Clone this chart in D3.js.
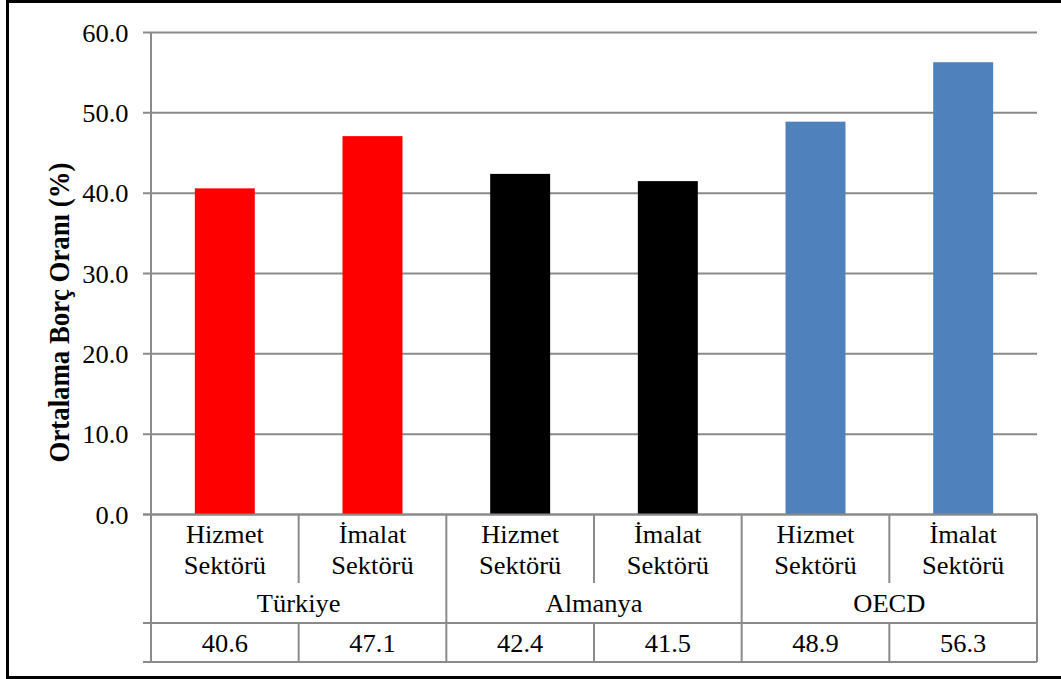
<!DOCTYPE html>
<html><head><meta charset="utf-8">
<script src="https://cdn.jsdelivr.net/npm/d3@7"></script>
<style>body{margin:0;background:#fff}svg{display:block}</style>
</head><body>
<svg id="c" width="1061" height="679"></svg>
<script>
const groups = ["Türkiye", "Almanya", "OECD"];
const sectors = ["Hizmet Sektörü", "İmalat Sektörü"];
const values = [40.6, 47.1, 42.4, 41.5, 48.9, 56.3];
const groupColors = ["#FF0000", "#000000", "#4F81BD"];
const yTicks = [0, 10, 20, 30, 40, 50, 60];
const yTitle = "Ortalama Borç Oranı (%)";

const svg = d3.select("#c");
const font = "'Liberation Serif','Times New Roman',serif";
const grid = "#8a8a8a";
const FS = 24.5, SX = 1.08;
const L = 151, R = 1037, T = 32.5, B = 514.5;
const rowCat = 583, rowGrp = 623, rowVal = 662;

// outer border
svg.append("rect").attr("x", 7.5).attr("y", 1.5).attr("width", 1070).attr("height", 676)
  .attr("fill", "none").attr("stroke", "#000").attr("stroke-width", 3);

const cats = [];
groups.forEach((g, gi) => sectors.forEach((s, si) => cats.push({g, gi, s, v: values[gi * 2 + si], key: gi + "-" + si})));

const x = d3.scaleBand().domain(cats.map(d => d.key)).range([L, R]).paddingInner(0.594).paddingOuter(0.297);
const xb = d3.scaleBand().domain(cats.map(d => d.key)).range([L, R]);
const y = d3.scaleLinear().domain([0, 60]).range([B, T]);

function txt(parent, tx, ty, s, anchor) {
  return parent.append("text").attr("transform", `translate(${tx},${ty}) scale(${SX},1)`)
    .attr("text-anchor", anchor || "middle").attr("font-family", font).attr("font-size", FS)
    .attr("fill", "#000").text(s);
}

// gridlines
svg.append("g").selectAll("line").data(yTicks).join("line")
  .attr("x1", L - 8).attr("x2", R).attr("y1", d => y(d)).attr("y2", d => y(d))
  .attr("stroke", grid).attr("stroke-width", 2);

// y labels
const yl = svg.append("g");
yTicks.forEach(d => txt(yl, 128.5, y(d) + 9, d3.format(".1f")(d), "end"));

// bars
svg.append("g").selectAll("rect").data(cats).join("rect")
  .attr("x", d => x(d.key)).attr("width", x.bandwidth())
  .attr("y", d => y(d.v)).attr("height", d => y(0) - y(d.v))
  .attr("fill", d => groupColors[d.gi]);

// axis / table lines
const tl = svg.append("g").attr("stroke", grid).attr("stroke-width", 2);
tl.append("line").attr("x1", L).attr("x2", L).attr("y1", T).attr("y2", rowVal);
tl.append("line").attr("x1", R).attr("x2", R).attr("y1", B).attr("y2", rowVal);
tl.append("line").attr("x1", L - 8).attr("x2", R).attr("y1", B).attr("y2", B);
tl.append("line").attr("x1", L - 8).attr("x2", R).attr("y1", rowGrp).attr("y2", rowGrp);
tl.append("line").attr("x1", L - 8).attr("x2", R).attr("y1", rowVal).attr("y2", rowVal);
cats.forEach((d, i) => {
  if (i === 0) return;
  const xx = xb(d.key);
  if (i % 2 === 0) tl.append("line").attr("x1", xx).attr("x2", xx).attr("y1", B).attr("y2", rowVal);
  else {
    tl.append("line").attr("x1", xx).attr("x2", xx).attr("y1", B).attr("y2", rowCat);
    tl.append("line").attr("x1", xx).attr("x2", xx).attr("y1", rowGrp).attr("y2", rowVal);
  }
});

// category labels
const tg = svg.append("g");
cats.forEach(d => {
  const cx = xb(d.key) + xb.bandwidth() / 2;
  const parts = d.s.split(" ");
  txt(tg, cx, 543, parts[0]);
  txt(tg, cx, 574, parts[1]);
  txt(tg, cx, 652, d3.format(".1f")(d.v));
});
groups.forEach((g, gi) => {
  const x0 = xb(gi + "-0"), x1 = xb(gi + "-1") + xb.bandwidth();
  txt(tg, (x0 + x1) / 2, 612, g);
});

// y title
svg.append("text").attr("transform", "translate(68.5,312.5) rotate(-90) scale(1,1.1)")
  .attr("text-anchor", "middle").attr("font-family", font).attr("font-size", 26.8)
  .attr("font-weight", "bold").attr("fill", "#000").text(yTitle);
</script>
</body></html>
